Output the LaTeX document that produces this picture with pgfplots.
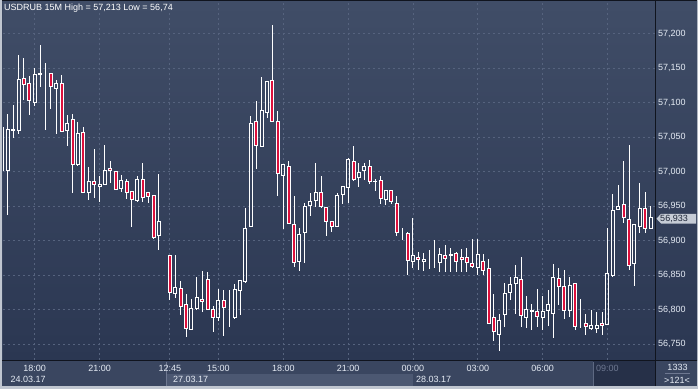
\documentclass[border=0pt]{standalone}
\usepackage{pgfplots}
\pgfplotsset{compat=1.18}
\usepackage{pgfplotstable}
\usepackage{fontspec}
\setmainfont{Liberation Sans}
\definecolor{framegray}{RGB}{192,198,208}
\definecolor{panel}{RGB}{58,70,96}
\definecolor{plottop}{RGB}{64,77,103}
\definecolor{plotbot}{RGB}{43,55,82}
\definecolor{band}{RGB}{76,88,114}
\definecolor{darkreg}{RGB}{38,48,72}
\definecolor{gridc}{RGB}{86,99,126}
\definecolor{candlered}{RGB}{220,16,60}
\definecolor{lbl}{RGB}{230,236,245}
\definecolor{dimlbl}{RGB}{110,120,145}
\definecolor{sepline}{RGB}{16,20,30}
\definecolor{boxgray}{RGB}{198,204,214}
\definecolor{boxtext}{RGB}{30,38,56}

\pgfplotstableread{
x o h l c
-1 57.064 57.068 56.995 57.001
0 57.001 57.083 56.937 57.061
1 57.060 57.096 57.049 57.061
2 57.059 57.169 57.054 57.134
3 57.135 57.165 57.104 57.126
4 57.128 57.138 57.082 57.103
5 57.100 57.150 57.095 57.141
6 57.140 57.183 57.123 57.142
7 57.142 57.157 57.060 57.142
8 57.142 57.142 57.091 57.123
9 57.120 57.133 57.054 57.127
10 57.128 57.140 57.058 57.058
11 57.059 57.082 57.037 57.070
12 57.075 57.084 56.969 57.011
13 57.010 57.072 57.008 57.055
14 57.057 57.064 56.969 56.969
15 56.969 57.006 56.959 56.986
16 56.986 57.033 56.962 56.982
17 56.978 56.993 56.956 56.982
18 56.982 57.039 56.982 57.002
19 57.005 57.015 56.983 57.002
20 57.000 57.000 56.974 56.974
21 56.975 56.995 56.971 56.987
22 56.986 56.990 56.960 56.970
23 56.971 56.971 56.920 56.960
24 56.958 56.994 56.956 56.989
25 56.989 57.012 56.956 56.963
26 56.969 56.969 56.955 56.964
27 56.965 56.965 56.903 56.905
28 56.907 56.997 56.886 56.927
29 56.928 56.928 56.928 56.928
30 56.879 56.879 56.814 56.825
31 56.823 56.879 56.817 56.832
32 56.831 56.841 56.792 56.805
33 56.808 56.823 56.761 56.773
34 56.772 56.815 56.770 56.802
35 56.801 56.848 56.800 56.817
36 56.815 56.856 56.796 56.812
37 56.844 56.854 56.800 56.800
38 56.800 56.805 56.767 56.788
39 56.788 56.830 56.783 56.813
40 56.813 56.828 56.762 56.803
41 56.806 56.828 56.775 56.806
42 56.788 56.837 56.786 56.829
43 56.828 56.842 56.792 56.842
44 56.841 56.947 56.838 56.918
45 56.920 57.080 56.920 57.070
46 57.073 57.102 57.004 57.038
47 57.036 57.137 57.036 57.088
48 57.086 57.131 57.078 57.131
49 57.132 57.213 57.072 57.072
50 57.073 57.088 56.964 56.997
51 56.995 57.011 56.917 57.010
52 57.008 57.015 56.925 56.925
53 56.924 56.964 56.862 56.869
54 56.870 56.918 56.856 56.909
55 56.912 56.954 56.867 56.950
56 56.951 56.969 56.936 56.957
57 56.958 57.012 56.949 56.970
58 56.970 56.994 56.948 56.949
59 56.948 56.948 56.907 56.928
60 56.928 56.928 56.912 56.921
61 56.920 56.969 56.920 56.966
62 56.967 56.979 56.953 56.979
63 56.977 57.019 56.955 57.017
64 57.015 57.037 56.987 56.989
65 56.992 57.013 56.977 56.999
66 57.001 57.013 56.988 57.008
67 57.008 57.017 56.982 56.986
68 56.985 56.990 56.972 56.986
69 56.987 56.994 56.953 56.961
70 56.960 56.973 56.952 56.972
71 56.972 56.973 56.953 56.956
72 56.954 56.965 56.907 56.912
73 56.910 56.918 56.901 56.910
74 56.911 56.912 56.850 56.871
75 56.870 56.933 56.860 56.878
76 56.876 56.883 56.857 56.872
77 56.870 56.882 56.856 56.873
78 56.873 56.886 56.859 56.873
79 56.872 56.901 56.861 56.872
80 56.868 56.889 56.854 56.880
81 56.879 56.894 56.854 56.874
82 56.879 56.889 56.854 56.880
83 56.882 56.884 56.854 56.870
84 56.876 56.888 56.854 56.873
85 56.876 56.889 56.854 56.869
86 56.867 56.903 56.861 56.862
87 56.861 56.903 56.850 56.880
88 56.870 56.880 56.850 56.857
89 56.859 56.874 56.780 56.780
90 56.789 56.822 56.754 56.769
91 56.764 56.794 56.740 56.784
92 56.793 56.839 56.775 56.824
93 56.825 56.848 56.814 56.837
94 56.838 56.865 56.794 56.846
95 56.844 56.877 56.775 56.791
96 56.788 56.820 56.773 56.800
97 56.798 56.808 56.770 56.799
98 56.798 56.830 56.775 56.790
99 56.789 56.820 56.771 56.798
100 56.799 56.829 56.776 56.808
101 56.795 56.866 56.759 56.847
102 56.845 56.861 56.807 56.833
103 56.833 56.857 56.786 56.799
104 56.799 56.848 56.790 56.835
105 56.838 56.838 56.770 56.775
106 56.777 56.816 56.773 56.777
107 56.780 56.794 56.764 56.776
108 56.773 56.800 56.770 56.777
109 56.773 56.796 56.766 56.777
110 56.780 56.796 56.764 56.777
111 56.778 56.918 56.778 56.853
112 56.850 56.968 56.848 56.944
113 56.945 56.981 56.945 56.950
114 56.952 57.015 56.925 56.934
115 56.931 57.039 56.857 56.864
116 56.867 56.923 56.835 56.923
117 56.921 56.984 56.911 56.947
118 56.947 56.971 56.911 56.917
119 56.918 56.950 56.918 56.933
}\candles

\pgfplotsset{candleaxis/.style={
  at={(3pt,29pt)}, anchor=south west, scale only axis,
  width=652pt, height=357pt,
  xmin=-0.87, xmax=119.8, ymin=56.7271, ymax=57.2442,
}}

\begin{document}
\begin{tikzpicture}[x=1pt,y=1pt]
% frame and panels
\fill[framegray] (0,0) rectangle (698,389);
\fill[panel] (2,3) rectangle (697,388);
\shade[top color=plottop, bottom color=plotbot] (3,29) rectangle (655,387);
\shade[top color=plottop, bottom color=plotbot] (656,29) rectangle (697,387);
\fill[panel] (3,3) rectangle (655,28);
\fill[band] (166,3) rectangle (413,15);
\fill[darkreg] (593,3) rectangle (655,28);
\fill[panel] (656,3) rectangle (697,28);
\draw[dimlbl, line width=0.8pt] (166,3) -- (166,27.5);
\draw[dimlbl!70!panel, line width=0.8pt] (593,3) -- (593,27.5);

\begin{axis}[candleaxis,
  axis line style={draw=none},
  major tick length=0pt,
  xtick={5,17,30,39,51,63,75,87,99,111},
  xticklabels={18:00,21:00,12:45,15:00,18:00,21:00,00:00,03:00,06:00,\textcolor{dimlbl}{09:00}},
  xticklabel style={anchor=center, yshift=-8.5pt, text=lbl, font=\fontsize{9}{10}\selectfont},
  ytick={56.75,56.8,56.85,56.9,56.95,57,57.05,57.1,57.15,57.2},
  yticklabels={{56,750},{56,800},{56,850},{56,900},{56,950},{57,000},{57,050},{57,100},{57,150},{57,200}},
  yticklabel pos=right,
  yticklabel style={anchor=west, inner sep=0pt, xshift=3pt, text=lbl, font=\fontsize{9}{10}\selectfont},
  grid=major,
  major grid style={draw=gridc, line width=0.8pt, dash pattern=on 2pt off 3pt},
]
\addplot[draw=none, mark=none, error bars/.cd, y dir=plus, y explicit, error mark=none,
  error bar style={draw=white, line width=1pt, solid}]
  table[x=x, y expr={max(\thisrow{o},\thisrow{c})}, y error plus expr={\thisrow{h}-max(\thisrow{o},\thisrow{c})}] {\candles};
\addplot[draw=none, mark=none, error bars/.cd, y dir=minus, y explicit, error mark=none,
  error bar style={draw=white, line width=1pt, solid}]
  table[x=x, y expr={min(\thisrow{o},\thisrow{c})}, y error minus expr={min(\thisrow{o},\thisrow{c})-\thisrow{l}}] {\candles};
\end{axis}

\begin{axis}[candleaxis, hide axis, ybar stacked, bar width=3pt]
\addplot[draw=none, fill=none] table[x=x, y expr={min(\thisrow{o},\thisrow{c})}] {\candles};
\addplot[draw=white, fill=candlered, line width=1pt] table[x=x, y expr={\thisrow{o}>\thisrow{c} ? \thisrow{o}-\thisrow{c} : 0}] {\candles};
\addplot[draw=white, fill=none, line width=1pt] table[x=x, y expr={\thisrow{c}>=\thisrow{o} ? \thisrow{c}-\thisrow{o} : 0}] {\candles};
\end{axis}

% separator lines
\draw[sepline, line width=1pt] (655.5,3) -- (655.5,388);
\draw[sepline, line width=1pt] (2,28.5) -- (697,28.5);
\draw[sepline, line width=0.8pt] (2,388.5) -- (697,388.5);

% texts
\node[anchor=west, inner sep=0pt, text=white, font=\fontsize{9}{10}\selectfont] at (4,380.5) {USDRUB 15M High = 57,213 Low = 56,74};
\node[anchor=west, inner sep=0pt, text=lbl, font=\fontsize{9}{10}\selectfont] at (10.5,9.5) {24.03.17};
\node[anchor=west, inner sep=0pt, text=lbl, font=\fontsize{9}{10}\selectfont] at (173,9.5) {27.03.17};
\node[anchor=west, inner sep=0pt, text=lbl, font=\fontsize{9}{10}\selectfont] at (416,9.5) {28.03.17};
\node[inner sep=0pt, text=lbl, font=\fontsize{9}{10}\selectfont] at (677.5,22) {1333};
\draw[dimlbl, line width=0.8pt] (665,15.5) -- (690,15.5);
\node[inner sep=0pt, text=lbl, font=\fontsize{9}{10}\selectfont] at (677,8.5) {>121<};
% current price marker
\fill[boxgray] (656.5,170.3) -- (661,175.2) -- (696,175.2) -- (696,165.5) -- (661,165.5) -- cycle;
\node[inner sep=0pt, text=boxtext, font=\fontsize{9}{10}\selectfont] at (674,170.3) {56,933};

\pgfresetboundingbox
\path[use as bounding box] (0,0) rectangle (698,389);
\end{tikzpicture}
\end{document}
